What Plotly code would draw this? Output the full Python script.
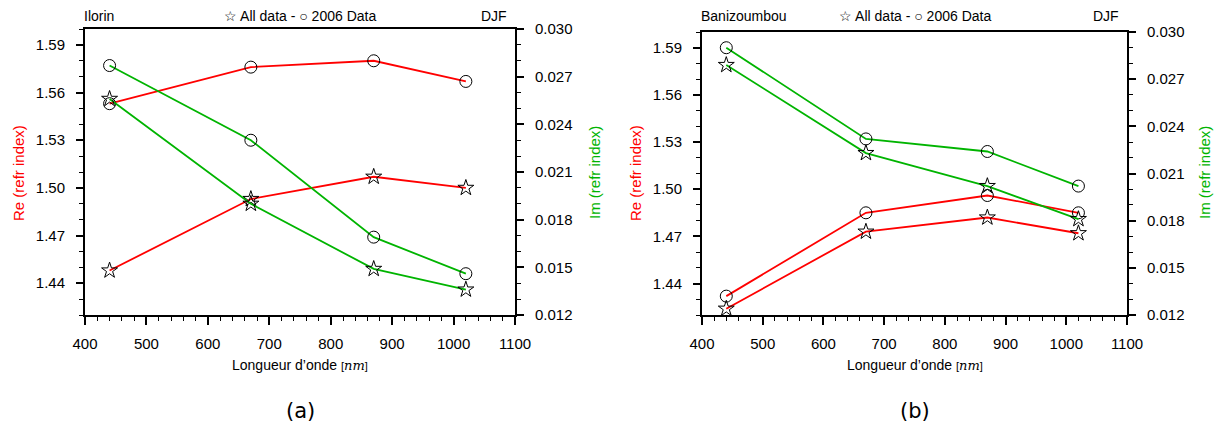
import plotly.graph_objects as go

# ---------------- data ----------------
wavelength = [440, 670, 870, 1020]

ilorin_re_all = [1.448, 1.493, 1.507, 1.500]
ilorin_re_2006 = [1.553, 1.576, 1.580, 1.567]
ilorin_im_all = [0.0256, 0.0190, 0.0149, 0.0136]
ilorin_im_2006 = [0.0277, 0.0230, 0.0169, 0.0146]

bani_re_all = [1.424, 1.473, 1.482, 1.472]
bani_re_2006 = [1.432, 1.485, 1.496, 1.485]
bani_im_all = [0.0279, 0.0223, 0.0202, 0.0181]
bani_im_2006 = [0.0290, 0.0232, 0.0224, 0.0202]

sites = ["Ilorin", "Banizoumbou"]
season = "DJF"
panel_labels = ["(a)", "(b)"]

W, H = 1217, 423
FONT = "Liberation Sans, Arial, Helvetica, sans-serif"
RED = "#ff0000"
GREEN = "#00b400"


def px(x):
    return x / W


def py(y):
    return 1 - y / H


fig = go.Figure()

panels = [
    dict(x="x", y="y", y2="y2", re_all=ilorin_re_all, re_06=ilorin_re_2006,
         im_all=ilorin_im_all, im_06=ilorin_im_2006),
    dict(x="x2", y="y3", y2="y4", re_all=bani_re_all, re_06=bani_re_2006,
         im_all=bani_im_all, im_06=bani_im_2006),
]

star = dict(symbol="star-open", color="black", size=12, line=dict(width=1))
circ = dict(symbol="circle-open", color="black", size=12, line=dict(width=1))

for p in panels:
    for vals, mk, col, yax in [
        (p["re_06"], circ, RED, p["y"]),
        (p["re_all"], star, RED, p["y"]),
        (p["im_06"], circ, GREEN, p["y2"]),
        (p["im_all"], star, GREEN, p["y2"]),
    ]:
        fig.add_trace(go.Scatter(
            x=wavelength, y=vals, mode="lines+markers",
            line=dict(color=col, width=1.8), marker=mk,
            xaxis=p["x"], yaxis=yax, showlegend=False, hoverinfo="skip",
        ))

tickfont = dict(family=FONT, size=15, color="black")

xcommon = dict(range=[400, 1100], tick0=400, dtick=100, ticks="outside", ticklen=8,
               tickwidth=1.5, tickcolor="black", showline=True, linecolor="black",
               linewidth=2, mirror=True, showgrid=False, zeroline=False,
               tickfont=tickfont, ticklabelstandoff=6, automargin=False,
               minor=dict(dtick=20, tick0=400, ticks="outside", ticklen=4,
                          tickwidth=1, tickcolor="black", showgrid=False))
recommon = dict(range=[1.42, 1.60], tick0=1.44, dtick=0.03, tickformat=".2f",
                ticks="outside", ticklen=7, tickwidth=1.5, tickcolor="black",
                showline=True, linecolor="black", linewidth=2, showgrid=False,
                zeroline=False, tickfont=tickfont, ticklabelstandoff=8,
                automargin=False,
                minor=dict(dtick=0.01, tick0=1.42, ticks="outside", ticklen=4,
                           tickwidth=1, tickcolor="black", showgrid=False))
imcommon = dict(range=[0.012, 0.030], tick0=0.012, dtick=0.003, tickformat=".3f",
                ticks="outside", ticklen=7, tickwidth=1.5, tickcolor="black",
                showline=True, linecolor="black", linewidth=2, showgrid=False,
                zeroline=False, tickfont=tickfont, ticklabelstandoff=8,
                side="right", automargin=False,
                minor=dict(dtick=0.001, tick0=0.012, ticks="outside", ticklen=4,
                           tickwidth=1, tickcolor="black", showgrid=False))

ybot = py(315)
fig.update_layout(
    template="none",
    width=W, height=H,
    margin=dict(l=0, r=0, t=0, b=0, autoexpand=False),
    paper_bgcolor="white", plot_bgcolor="white",
    font=dict(family=FONT, size=14, color="black"),
    xaxis=dict(domain=[px(85), px(515)], anchor="y", **xcommon),
    yaxis=dict(domain=[ybot, py(29)], anchor="x", **recommon),
    yaxis2=dict(overlaying="y", anchor="x", **imcommon),
    xaxis2=dict(domain=[px(702), px(1127)], anchor="y3", **xcommon),
    yaxis3=dict(domain=[ybot, py(32)], anchor="x2", **recommon),
    yaxis4=dict(overlaying="y3", anchor="x2", **imcommon),
)

ann = []
xt = ('Longueur d’onde <span style="font-size:11px">[</span>'
      '<span style="font-family:\'DejaVu Serif\';font-size:13px"><i>nm</i></span>'
      '<span style="font-size:11px">]</span>')
geo = [
    dict(l=85, r=515, re_x=18, im_x=594),
    dict(l=702, r=1127, re_x=635, im_x=1204),
]


def note(x, y, text, size=14, color="black", family=FONT, xanchor="center", angle=0):
    return dict(x=px(x), y=py(y), xref="paper", yref="paper", text=text,
                xanchor=xanchor, yanchor="middle", showarrow=False, textangle=angle,
                font=dict(size=size, color=color, family=family))


for i, g in enumerate(geo):
    cx = (g["l"] + g["r"]) / 2
    ann += [
        note(g["l"] - 3, 16, sites[i], xanchor="left"),
        note(cx, 16, "☆ All data - ○ 2006 Data"),
        note(g["r"] - 6, 16, season, xanchor="right"),
        note(g["re_x"], 173, "Re (refr index)", size=15, color=RED, angle=-90),
        note(g["im_x"], 173, "Im (refr index)", size=15, color=GREEN, angle=-90),
        note(cx, 365, xt),
        note(cx, 411, panel_labels[i], size=21, family="DejaVu Sans, sans-serif"),
    ]
fig.update_layout(annotations=ann)

fig.write_html(
    "out.html",
    config={"displayModeBar": False},
    post_script="document.body.style.margin='0';document.body.style.overflow='hidden';",
)
